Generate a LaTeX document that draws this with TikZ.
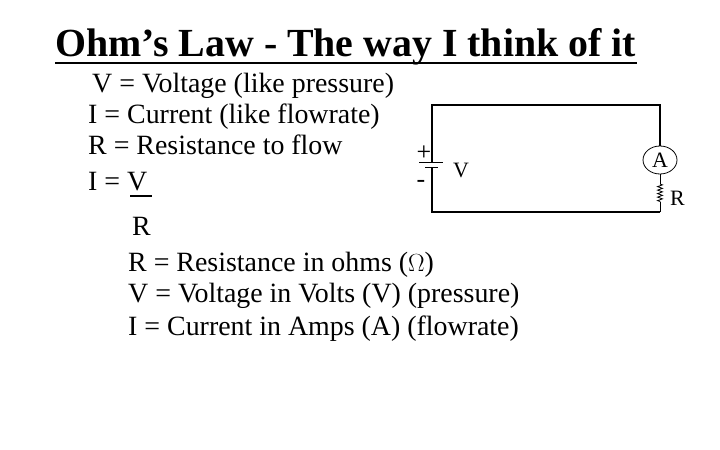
\documentclass[tikz,border=0pt]{standalone}
\usepackage{fontspec}
\setmainfont{Liberation Serif}
\usetikzlibrary{decorations.pathmorphing,shapes.geometric}
\begin{document}
\begin{tikzpicture}[x=1bp,y=-1bp,
  txt/.style={anchor=base west,inner sep=0pt,font=\fontsize{28}{32}\selectfont},
  wire/.style={line width=1.3bp}]
\useasboundingbox (0,0) rectangle (720,450);
\node[anchor=base west,inner sep=0pt,font=\fontsize{40}{44}\selectfont\bfseries] (title) at (55,57) {Ohm’s Law - The way I think of it};
\draw[line width=2.5bp] (55,63) -- (637,63);
\node[txt] (l1) at (92,93) {V = Voltage (like pressure)};
\node[txt] (l2) at (88,124) {I = Current (like flowrate)};
\node[txt] (l3) at (88,155) {R = Resistance to flow};
\node[txt] (l4) at (88,191) {I = V};
\draw[line width=2.5bp] (130,196) -- (152,196);
\node[txt] (l5) at (132,236) {R};
\node[txt] (l6) at (128,272) {R = Resistance in ohms ($\Omega$)};
\node[txt] (l7) at (128,303) {V = Voltage in Volts (V) (pressure)};
\node[txt] (l8) at (128,336) {I = Current in Amps (A) (flowrate)};
% circuit
\coordinate (tl) at (432,105);
\coordinate (tr) at (660,105);
\coordinate (bl) at (432,212);
\coordinate (br) at (660,212);
\coordinate (bt) at (432,163);
\coordinate (bb) at (432,168);
\node[draw,ellipse,minimum width=34bp,minimum height=28bp,inner sep=0pt,line width=0.8bp,font=\fontsize{22}{24}\selectfont] (A) at (660,160) {A};
\coordinate (rt) at (660,184);
\coordinate (rb) at (660,202);
\draw[wire] (bt) -- (tl) -- (tr) -- (A.north);
\draw[line width=0.8bp] (A.south) -- (rt);
\draw[line width=0.8bp,decorate,decoration={zigzag,segment length=3.5bp,amplitude=2.5bp}] (rt) -- (rb);
\draw[line width=0.8bp] (rb) -- (br);
\draw[wire] (br) -- (bl) -- (bb);
\draw[line width=1bp] (419,163) -- (443,163);
\draw[line width=1bp] (425,168) -- (438,168);
\node[font=\fontsize{26}{28}\selectfont,inner sep=0pt] (plus) at (424,153) {+};
\node[font=\fontsize{26}{28}\selectfont,inner sep=0pt] (minus) at (421,184) {-};
\node[txt,font=\fontsize{22}{24}\selectfont] (V) at (453,178) {V};
\node[txt,font=\fontsize{22}{24}\selectfont] (R) at (670,206) {R};
\end{tikzpicture}
\end{document}
